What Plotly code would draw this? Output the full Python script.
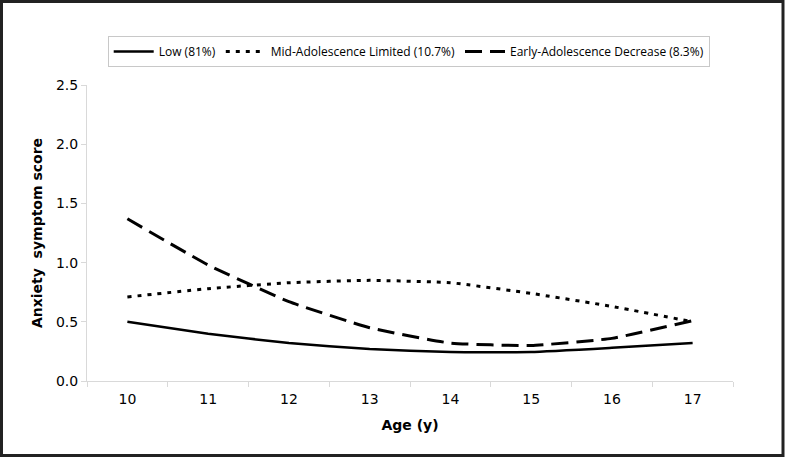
import plotly.graph_objects as go

ages = ["10", "11", "12", "13", "14", "15", "16", "17"]
low = [0.50, 0.40, 0.32, 0.27, 0.245, 0.245, 0.28, 0.32]
mid = [0.71, 0.78, 0.83, 0.85, 0.83, 0.74, 0.63, 0.50]
early = [1.37, 0.98, 0.67, 0.45, 0.32, 0.30, 0.36, 0.51]
names = ["Low (81%)", "Mid-Adolescence Limited (10.7%)", "Early-Adolescence Decrease (8.3%)"]
yticks = [0.0, 0.5, 1.0, 1.5, 2.0, 2.5]

fig = go.Figure()
fig.add_trace(go.Scatter(x=ages, y=low, name=names[0], mode="lines",
                         line=dict(color="black", width=2.5, shape="spline", smoothing=0.4)))
fig.add_trace(go.Scatter(x=ages, y=mid, name=names[1], mode="lines",
                         line=dict(color="black", width=3, dash="4px,6px", shape="spline", smoothing=0.4)))
fig.add_trace(go.Scatter(x=ages, y=early, name=names[2], mode="lines",
                         line=dict(color="black", width=3, dash="17px,8px", shape="spline", smoothing=0.4)))

L, R, T, B = 87, 52, 85, 77
W, H = 785, 458
pw, ph = W - L - R, H - T - B

fig.update_layout(
    width=W, height=H,
    margin=dict(l=L, r=R, t=T, b=B),
    paper_bgcolor="white", plot_bgcolor="white",
    font=dict(family="DejaVu Sans", size=14, color="black"),
    legend=dict(orientation="h", x=0.498, xanchor="center", y=(H - B - 36) / ph, yanchor="top",
                bordercolor="#c8c8c8", borderwidth=1,
                font=dict(family="Open Sans", size=12, color="black"),
                itemwidth=40, tracegroupgap=0, itemclick=False),
    xaxis=dict(type="category", range=[-0.5, 7.5], showgrid=False, showline=True,
               linecolor="#d9d9d9", linewidth=1,
               ticks="outside", tickson="boundaries", ticklen=5, tickcolor="#d9d9d9",
               tickfont=dict(size=14), ticklabelstandoff=5,
               title=dict(text="<b>Age (y)</b>", font=dict(size=14), standoff=14)),
    yaxis=dict(range=[0, 2.5], tickvals=yticks, ticktext=[f"{v:.1f}" for v in yticks],
               showgrid=False, showline=True, linecolor="#d9d9d9", linewidth=1,
               ticks="outside", ticklen=5, tickcolor="#d9d9d9", zeroline=False,
               tickfont=dict(size=14),
               title=dict(text="<b>Anxiety  symptom score</b>", font=dict(size=14), standoff=10)),
    shapes=[dict(type="rect", xref="paper", yref="paper",
                 x0=(1.5 - L) / pw, x1=(W - 2 - L) / pw,
                 y0=(H - B - (H - 2.5)) / ph, y1=(H - B - 1.5) / ph,
                 line=dict(color="#222222", width=3), layer="above")],
)

fig.write_html("out.html", config={"displayModeBar": False},
               post_script="document.body.style.margin='0';document.body.style.overflow='hidden';")
